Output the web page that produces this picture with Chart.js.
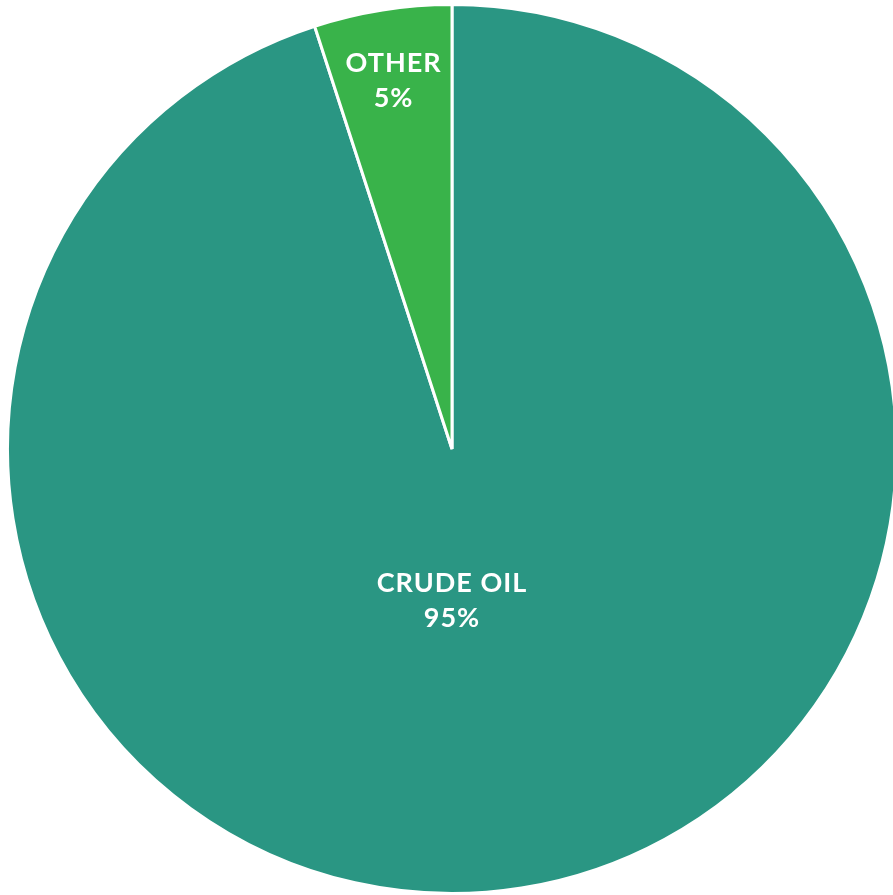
<!DOCTYPE html>
<html>
<head>
<meta charset="utf-8">
<script src="https://cdn.jsdelivr.net/npm/chart.js@4"></script>
<style>
  html, body { margin: 0; padding: 0; background: #fff; overflow: hidden; }
  #wrap { width: 904px; height: 895px; }
</style>
</head>
<body>
<div id="wrap"><canvas id="graficopizza"></canvas></div>
<script>
const categorias = ['CRUDE OIL', 'OTHER'];
const valores = [95, 5];
const cores = ['#2a9683', '#39b34a'];

// posicao dos rotulos: fracao do raio e ajuste de angulo (graus)
const rotuloRaio = [0.34, 0.84];
const rotuloAngulo = [9, 0];

const rotulos = {
    id: 'rotulos',
    afterDatasetsDraw(chart) {
        const ctx = chart.ctx;
        const meta = chart.getDatasetMeta(0);
        const total = valores.reduce((a, b) => a + b, 0);
        ctx.save();
        ctx.fillStyle = '#ffffff';
        ctx.textAlign = 'center';
        ctx.textBaseline = 'middle';
        ctx.font = 'bold 27px Lato';
        ctx.letterSpacing = '1px';
        meta.data.forEach((arc, i) => {
            const p = arc.getProps(['x', 'y', 'startAngle', 'endAngle', 'outerRadius'], true);
            const ang = (p.startAngle + p.endAngle) / 2 + rotuloAngulo[i] * Math.PI / 180;
            const r = p.outerRadius * rotuloRaio[i];
            const cx = p.x + Math.cos(ang) * r;
            const cy = p.y + Math.sin(ang) * r;
            const pct = Math.round(valores[i] / total * 100) + '%';
            ctx.fillText(categorias[i], cx, cy - 17);
            ctx.fillText(pct, cx, cy + 18);
        });
        ctx.restore();
    }
};

const ctx = document.getElementById('graficopizza');
const myChart = new Chart(ctx, {
    type: 'pie',
    data: {
        labels: categorias,
        datasets: [{
            data: valores,
            backgroundColor: cores,
            borderColor: '#ffffff',
            borderWidth: 3
        }]
    },
    options: {
        responsive: true,
        maintainAspectRatio: false,
        animation: false,
        layout: {
            padding: { left: 6, right: 6, top: 3, bottom: 0 }
        },
        plugins: {
            legend: { display: false },
            tooltip: { enabled: false }
        }
    },
    plugins: [rotulos]
});
</script>
</body>
</html>
